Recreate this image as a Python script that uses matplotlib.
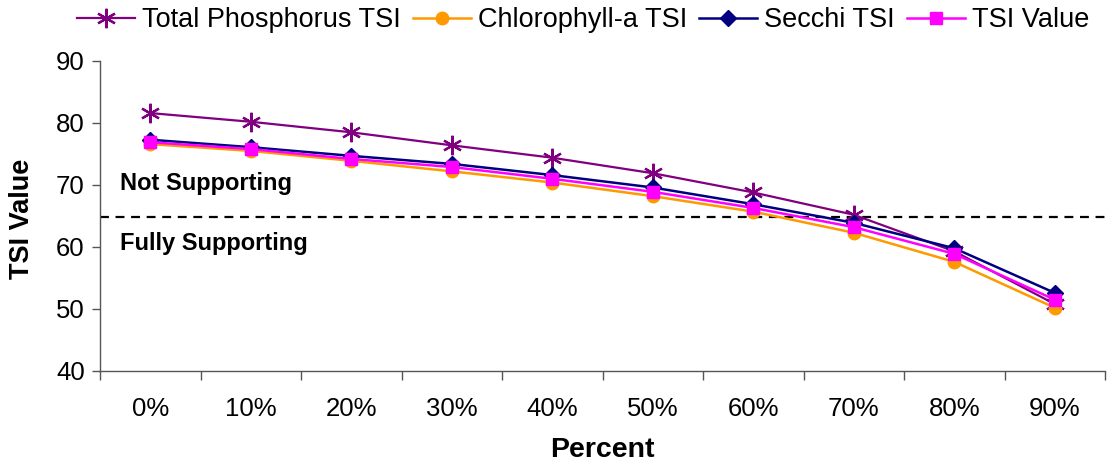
import matplotlib
matplotlib.use("Agg")
import matplotlib.pyplot as plt
import numpy as np

plt.rcParams['font.family'] = ['Liberation Sans', 'DejaVu Sans']

categories = ["0%", "10%", "20%", "30%", "40%", "50%", "60%", "70%", "80%", "90%"]
total_phosphorus = [81.6, 80.2, 78.5, 76.4, 74.4, 71.9, 68.8, 65.2, 59.3, 50.8]
chlorophyll_a = [76.6, 75.5, 73.9, 72.2, 70.4, 68.2, 65.7, 62.3, 57.6, 50.2]
secchi = [77.3, 76.1, 74.7, 73.4, 71.6, 69.6, 66.9, 63.9, 59.8, 52.6]
tsi_value = [76.9, 75.8, 74.2, 72.9, 71.0, 68.9, 66.3, 63.2, 58.9, 51.5]
threshold = 64.8

W, H = 1117, 466
fig = plt.figure(figsize=(W / 100, H / 100), dpi=100)
ax = fig.add_axes([100 / W, 1 - 371 / H, 1005 / W, 310 / H])

x = np.arange(len(categories))
ax.plot(x, total_phosphorus, color="#800080", lw=1.6, marker=(6, 2, 0), ms=14,
        mew=1.6, label="Total Phosphorus TSI", zorder=3)
ax.plot(x, chlorophyll_a, color="#FF9900", lw=1.8, marker="o", ms=9,
        label="Chlorophyll-a TSI", zorder=4)
ax.plot(x, secchi, color="#000080", lw=1.8, marker="D", ms=8,
        label="Secchi TSI", zorder=5)
ax.plot(x, tsi_value, color="#FF00FF", lw=1.8, marker="s", ms=9,
        label="TSI Value", zorder=6)

ax.axhline(threshold, color="black", lw=1.6, ls=(0, (4, 3)), zorder=2)
ax.text(0.02, 0.605, "Not Supporting", transform=ax.transAxes,
        fontsize=17, fontweight="bold", va="center", ha="left")
ax.text(0.02, 0.41, "Fully Supporting", transform=ax.transAxes,
        fontsize=17, fontweight="bold", va="center", ha="left")

ax.set_xlim(-0.5, len(categories) - 0.5)
ax.set_ylim(40, 90)
ax.set_yticks(range(40, 91, 10))
ax.set_xticks(x)
ax.set_xticklabels(categories)
ax.set_xticks(np.arange(-0.5, len(categories), 1), minor=True)
ax.tick_params(axis="x", which="major", length=0, pad=19, labelsize=18.5)
ax.tick_params(axis="x", which="minor", length=6.5, width=1, color="#555555")
ax.tick_params(axis="y", length=6, width=1, color="#555555", labelsize=18.5, pad=5)

for s in ("top", "right"):
    ax.spines[s].set_visible(False)
for s in ("left", "bottom"):
    ax.spines[s].set_color("#555555")
    ax.spines[s].set_linewidth(1)

ax.set_ylabel("TSI Value", fontsize=19.5, fontweight="bold")
ax.yaxis.set_label_coords(-0.0647, 0.49)
ax.set_xlabel("Percent", fontsize=20.5, fontweight="bold")
ax.xaxis.set_label_coords(0.5, -0.214)

fig.legend(loc="center", bbox_to_anchor=(583 / W, 1 - 20 / H), ncol=4,
           frameon=False, fontsize=19.5, handlelength=2.15, handletextpad=0.25,
           columnspacing=0.44, borderaxespad=0)

fig.savefig("out.png", dpi=100)
